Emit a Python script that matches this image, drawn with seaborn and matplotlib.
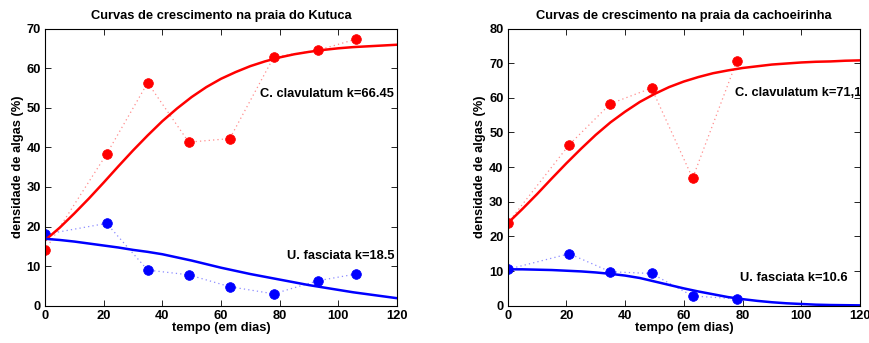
import numpy as np
import pandas as pd
import matplotlib
matplotlib.use("Agg")
import matplotlib.pyplot as plt
import seaborn as sns

# observed points (days, % cover)
dias_kutuca = [0, 21, 35, 49, 63, 78, 93, 106]
clav_kutuca = [14.0, 38.3, 56.3, 41.3, 42.2, 62.8, 64.5, 67.3]
fasc_kutuca = [18.0, 20.8, 9.0, 7.8, 4.8, 3.0, 6.3, 8.0]

dias_cach = [0, 21, 35, 49, 63, 78]
clav_cach = [23.8, 46.5, 58.3, 62.8, 36.8, 70.5]
fasc_cach = [10.5, 15.0, 9.8, 9.3, 2.8, 2.0]

# fitted curves, every 5 days
t_fit = list(range(0, 125, 5))
clav_kutuca_fit = [16.5, 19.7, 23.3, 27.1, 31.1, 35.2, 39.2, 43.0, 46.6, 49.8,
                   52.7, 55.2, 57.3, 59.0, 60.5, 61.7, 62.7, 63.5, 64.1, 64.6,
                   65.0, 65.3, 65.5, 65.7, 65.9]
fasc_kutuca_fit = [16.9, 16.6, 16.2, 15.7, 15.2, 14.7, 14.1, 13.6, 13.0, 12.2,
                   11.4, 10.5, 9.6, 8.8, 8.0, 7.3, 6.6, 5.9, 5.2, 4.6,
                   4.0, 3.4, 2.9, 2.4, 1.9]
clav_cach_fit = [23.8, 27.9, 32.2, 36.7, 41.1, 45.3, 49.3, 52.9, 56.0, 58.8,
                 61.1, 63.1, 64.7, 66.0, 67.1, 67.9, 68.6, 69.1, 69.6, 69.9,
                 70.2, 70.4, 70.5, 70.7, 70.8]
fasc_cach_fit = [10.5, 10.5, 10.4, 10.3, 10.1, 9.9, 9.6, 9.2, 8.7, 8.0,
                 7.0, 6.0, 5.0, 4.1, 3.3, 2.5, 1.9, 1.4, 1.0, 0.7,
                 0.5, 0.3, 0.2, 0.15, 0.1]

sns.set_style("ticks")
plt.rcParams['font.family'] = ['Liberation Sans', 'DejaVu Sans']
plt.rcParams['font.weight'] = 'bold'
plt.rcParams['axes.labelweight'] = 'bold'
plt.rcParams['axes.titleweight'] = 'bold'
plt.rcParams['text.color'] = 'black'
plt.rcParams['axes.labelcolor'] = 'black'
plt.rcParams['xtick.color'] = 'black'
plt.rcParams['ytick.color'] = 'black'

fs = 9.3
fig = plt.figure(figsize=(8.69, 3.43), dpi=100)
ax1 = fig.add_axes([0.0518, 0.1087, 0.405, 0.8082])
ax2 = fig.add_axes([0.5842, 0.1087, 0.4054, 0.8082])


def painel(ax, dias, clav, fasc, clav_fit, fasc_fit, ymax, titulo):
    dot = (0, (1, 2.5))
    for y, c, pale in [(clav, 'red', '#ff8c8c'), (fasc, 'blue', '#8c8cff')]:
        sns.lineplot(x=dias, y=y, ax=ax, color=c, lw=0.9,
                     marker='o', markersize=7, markerfacecolor=c,
                     markeredgecolor=c, markeredgewidth=0.5, sort=False)
        ax.lines[-1].set_linestyle(dot)
        ax.lines[-1].set_color(pale)
    sns.lineplot(x=t_fit, y=clav_fit, ax=ax, color='red', lw=1.8)
    sns.lineplot(x=t_fit, y=fasc_fit, ax=ax, color='blue', lw=1.8)
    ax.set_xlim(0, 120)
    ax.set_ylim(0, ymax)
    ax.set_xticks(range(0, 121, 20))
    ax.set_yticks(range(0, ymax + 1, 10))
    ax.tick_params(direction='in', top=True, right=True, length=4,
                   width=0.6, labelsize=fs, pad=3, colors='black')
    for lab in ax.get_xticklabels() + ax.get_yticklabels():
        lab.set_fontweight('bold')
    for s in ax.spines.values():
        s.set_linewidth(0.8)
        s.set_color('black')
    ax.set_xlabel('tempo (em dias)', fontsize=fs, labelpad=0, color='black')
    ax.set_ylabel('densidade de algas (%)', fontsize=fs, labelpad=2, color='black')
    ax.set_title(titulo, fontsize=fs, pad=7, color='black')


painel(ax1, dias_kutuca, clav_kutuca, fasc_kutuca, clav_kutuca_fit,
       fasc_kutuca_fit, 70, 'Curvas de crescimento na praia do Kutuca')
painel(ax2, dias_cach, clav_cach, fasc_cach, clav_cach_fit,
       fasc_cach_fit, 80, 'Curvas de crescimento na praia da cachoeirinha')

ax1.text(73.3, 53.5, 'C. clavulatum k=66.45', fontsize=fs, fontweight='bold',
         va='center', color='black')
ax1.text(82.5, 12.5, 'U. fasciata k=18.5', fontsize=fs, fontweight='bold',
         va='center', color='black')
ax2.text(77.4, 61.4, 'C. clavulatum k=71,1', fontsize=fs, fontweight='bold',
         va='center', color='black', clip_on=True)
ax2.text(79.2, 8.0, 'U. fasciata k=10.6', fontsize=fs, fontweight='bold',
         va='center', color='black')

fig.savefig('out.png', dpi=100)
